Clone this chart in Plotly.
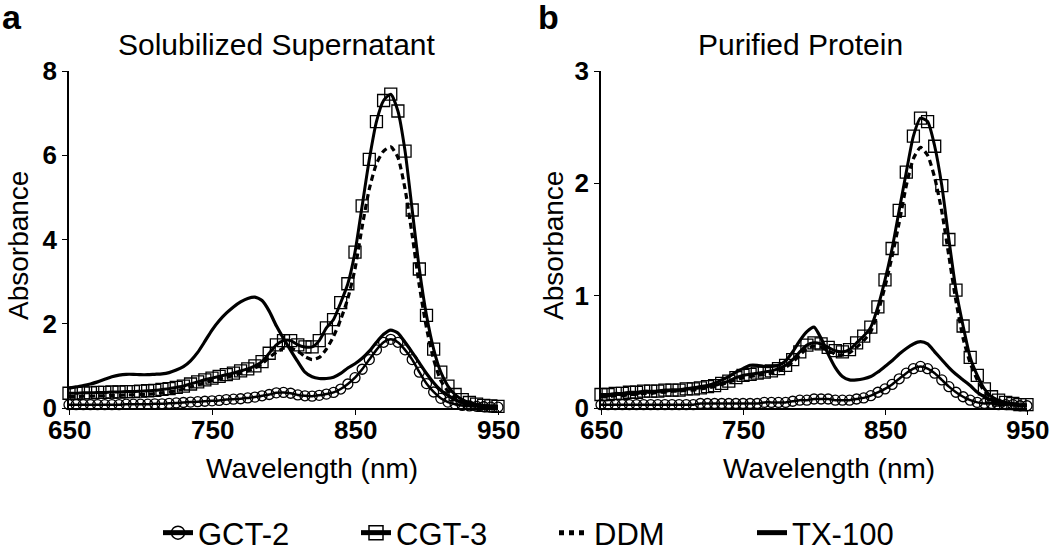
import plotly.graph_objects as go

# ---------------- data ----------------
wavelength = list(range(650, 951, 5))  # nm, 61 points

# Panel a: Solubilized Supernatant
a_gct2 = [0.08, 0.08, 0.08, 0.08, 0.08, 0.08, 0.08, 0.08, 0.09, 0.09,
          0.09, 0.09, 0.10, 0.10, 0.11, 0.12, 0.13, 0.14, 0.15, 0.16,
          0.17, 0.18, 0.20, 0.21, 0.22, 0.24, 0.26, 0.29, 0.32, 0.36,
          0.37, 0.35, 0.31, 0.29, 0.28, 0.30, 0.33, 0.37, 0.45, 0.57,
          0.72, 0.92, 1.15, 1.38, 1.56, 1.63, 1.56, 1.38, 1.15, 0.85,
          0.58, 0.38, 0.23, 0.14, 0.09, 0.06, 0.05, 0.04, 0.03, 0.02,
          0.02]
a_cgt3 = [0.35, 0.35, 0.36, 0.36, 0.37, 0.37, 0.38, 0.38, 0.39, 0.39,
          0.40, 0.41, 0.42, 0.44, 0.46, 0.49, 0.52, 0.57, 0.62, 0.67,
          0.71, 0.75, 0.79, 0.83, 0.88, 0.93, 1.00, 1.10, 1.30, 1.50,
          1.60, 1.60, 1.50, 1.45, 1.45, 1.60, 1.90, 2.10, 2.50, 2.95,
          3.70, 4.80, 5.90, 6.80, 7.30, 7.45, 7.05, 6.10, 4.70, 3.30,
          2.20, 1.40, 0.85, 0.52, 0.32, 0.20, 0.13, 0.09, 0.06, 0.05,
          0.04]
a_ddm = [0.27, 0.27, 0.28, 0.28, 0.29, 0.29, 0.30, 0.30, 0.31, 0.31,
         0.32, 0.33, 0.34, 0.36, 0.38, 0.41, 0.45, 0.50, 0.55, 0.60,
         0.65, 0.69, 0.73, 0.77, 0.82, 0.88, 0.95, 1.05, 1.20, 1.32,
         1.42, 1.42, 1.35, 1.22, 1.15, 1.20, 1.40, 1.70, 2.10, 2.60,
         3.30, 4.30, 5.20, 5.80, 6.10, 6.20, 5.95, 5.20, 4.10, 2.90,
         1.90, 1.15, 0.65, 0.40, 0.25, 0.16, 0.11, 0.07, 0.05, 0.04,
         0.03]
a_tx100 = [0.47, 0.50, 0.53, 0.57, 0.62, 0.68, 0.74, 0.78, 0.80, 0.80,
           0.79, 0.79, 0.80, 0.81, 0.84, 0.90, 0.98, 1.12, 1.32, 1.58,
           1.85, 2.07, 2.25, 2.40, 2.52, 2.60, 2.63, 2.55, 2.30, 1.95,
           1.65, 1.37, 1.10, 0.85, 0.74, 0.70, 0.70, 0.73, 0.82, 0.95,
           1.05, 1.18, 1.35, 1.56, 1.75, 1.85, 1.78, 1.56, 1.32, 1.07,
           0.82, 0.60, 0.42, 0.30, 0.20, 0.12, 0.08, 0.05, 0.03, 0.02,
           0.01]

# Panel b: Purified Protein
b_gct2 = [0.03, 0.03, 0.03, 0.03, 0.03, 0.03, 0.03, 0.03, 0.03, 0.03,
          0.03, 0.03, 0.03, 0.03, 0.04, 0.04, 0.04, 0.04, 0.04, 0.04,
          0.04, 0.04, 0.04, 0.05, 0.05, 0.05, 0.05, 0.06, 0.07, 0.07,
          0.08, 0.08, 0.08, 0.07, 0.07, 0.07, 0.08, 0.09, 0.11, 0.14,
          0.17, 0.21, 0.26, 0.31, 0.35, 0.37, 0.35, 0.31, 0.25, 0.19,
          0.14, 0.10, 0.07, 0.05, 0.04, 0.04, 0.03, 0.03, 0.03, 0.02,
          0.02]
b_cgt3 = [0.12, 0.12, 0.13, 0.13, 0.14, 0.14, 0.15, 0.15, 0.15, 0.16,
          0.16, 0.16, 0.17, 0.17, 0.18, 0.19, 0.20, 0.22, 0.24, 0.27,
          0.29, 0.30, 0.31, 0.32, 0.33, 0.35, 0.38, 0.43, 0.50, 0.56,
          0.58, 0.57, 0.54, 0.51, 0.50, 0.52, 0.58, 0.64, 0.72, 0.90,
          1.14, 1.42, 1.76, 2.10, 2.42, 2.58, 2.55, 2.33, 1.98, 1.50,
          1.05, 0.73, 0.45, 0.29, 0.17, 0.10, 0.07, 0.05, 0.04, 0.03,
          0.03]
b_ddm = [0.10, 0.10, 0.11, 0.11, 0.12, 0.12, 0.13, 0.13, 0.14, 0.14,
         0.15, 0.15, 0.16, 0.16, 0.17, 0.18, 0.19, 0.21, 0.23, 0.25,
         0.27, 0.28, 0.29, 0.30, 0.31, 0.33, 0.36, 0.41, 0.47, 0.53,
         0.55, 0.54, 0.51, 0.48, 0.47, 0.49, 0.54, 0.60, 0.68, 0.85,
         1.08, 1.35, 1.65, 1.98, 2.22, 2.32, 2.25, 2.05, 1.75, 1.35,
         0.95, 0.62, 0.40, 0.25, 0.15, 0.09, 0.06, 0.04, 0.03, 0.03,
         0.02]
b_tx100 = [0.10, 0.11, 0.12, 0.12, 0.13, 0.13, 0.14, 0.14, 0.15, 0.15,
           0.16, 0.16, 0.17, 0.18, 0.19, 0.20, 0.22, 0.25, 0.28, 0.32,
           0.35, 0.38, 0.38, 0.37, 0.37, 0.38, 0.42, 0.50, 0.60, 0.68,
           0.72, 0.62, 0.48, 0.36, 0.28, 0.25, 0.25, 0.26, 0.28, 0.32,
           0.37, 0.42, 0.48, 0.53, 0.57, 0.59, 0.57, 0.50, 0.43, 0.36,
           0.30, 0.25, 0.20, 0.14, 0.10, 0.07, 0.05, 0.04, 0.03, 0.02,
           0.02]

series_names = ["GCT-2", "CGT-3", "DDM", "TX-100"]
panel_titles = ["Solubilized Supernatant", "Purified Protein"]
panel_letters = ["a", "b"]
x_ticks = [650, 750, 850, 950]
a_y_ticks = [0, 2, 4, 6, 8]
b_y_ticks = [0, 1, 2, 3]

# ---------------- figure ----------------
W, H = 1050, 547
FONT = "Liberation Sans, Arial, sans-serif"


def px(x):
    return x / W


def py(y):
    return 1 - y / H


fig = go.Figure()

styles = {
    "GCT-2": dict(mode="lines+markers", line=dict(color="black", width=2.5),
                  marker=dict(symbol="circle-open", size=10, color="black",
                              line=dict(width=1.3, color="black"))),
    "CGT-3": dict(mode="lines+markers", line=dict(color="black", width=3),
                  marker=dict(symbol="square-open", size=12, color="black",
                              line=dict(width=1.3, color="black"))),
    "DDM": dict(mode="lines", line=dict(color="black", width=3.2, dash="6px,4px")),
    "TX-100": dict(mode="lines", line=dict(color="black", width=3.2)),
}

panels = [
    ("x", "y", {"GCT-2": a_gct2, "CGT-3": a_cgt3, "DDM": a_ddm, "TX-100": a_tx100}),
    ("x2", "y2", {"GCT-2": b_gct2, "CGT-3": b_cgt3, "DDM": b_ddm, "TX-100": b_tx100}),
]

for xa, ya, data in panels:
    for name in ["TX-100", "DDM", "CGT-3", "GCT-2"]:
        st = styles[name]
        fig.add_trace(go.Scatter(
            x=wavelength, y=data[name], xaxis=xa, yaxis=ya, name=name,
            mode=st["mode"], line=dict(st["line"], shape="spline", smoothing=0.6),
            marker=st.get("marker"), showlegend=False, cliponaxis=False,
            hoverinfo="skip"))

# legend-only entries (thicker symbols, as in the reference legend)
leg_styles = {
    "GCT-2": dict(mode="lines+markers", line=dict(color="black", width=5),
                  marker=dict(symbol="circle-open", size=13, color="black",
                              line=dict(width=1.5, color="black"))),
    "CGT-3": dict(mode="lines+markers", line=dict(color="black", width=5),
                  marker=dict(symbol="square-open", size=14, color="black",
                              line=dict(width=1.5, color="black"))),
    "DDM": dict(mode="lines", line=dict(color="black", width=5, dash="dot")),
    "TX-100": dict(mode="lines", line=dict(color="black", width=5)),
}
for name in series_names:
    st = leg_styles[name]
    fig.add_trace(go.Scatter(x=[None], y=[None], name=name, mode=st["mode"],
                             line=st["line"], marker=st.get("marker"),
                             showlegend=True, xaxis="x", yaxis="y"))

ydom = [py(408), py(71)]
TICKFONT = dict(family=FONT, size=26, color="black", weight="bold")
axis_common = dict(showgrid=False, zeroline=False, showline=True, linecolor="black",
                   linewidth=1.5, ticks="outside", ticklen=5, tickwidth=1.2,
                   tickcolor="black", automargin=False, tickfont=TICKFONT)

fig.update_layout(
    width=W, height=H, margin=dict(l=0, r=0, t=0, b=0, autoexpand=False),
    paper_bgcolor="white", plot_bgcolor="white",
    font=dict(family=FONT, color="black"),
    xaxis=dict(axis_common, domain=[px(69), px(498)], range=[650, 950],
               tickvals=x_ticks, showticklabels=False, anchor="y"),
    yaxis=dict(axis_common, domain=ydom, range=[0, 8], tickvals=a_y_ticks, anchor="x"),
    xaxis2=dict(axis_common, domain=[px(601), px(1027)], range=[650, 950],
                tickvals=x_ticks, showticklabels=False, anchor="y2"),
    yaxis2=dict(axis_common, domain=ydom, range=[0, 3], tickvals=b_y_ticks, anchor="x2"),
    legend=dict(orientation="h", x=px(158), y=py(506), xanchor="left", yanchor="top",
                font=dict(family=FONT, size=31, color="black"),
                entrywidth=153, entrywidthmode="pixels", bgcolor="rgba(0,0,0,0)"),
    showlegend=True,
)

ann = []
# x tick labels (placed on the data axis, a little closer than Plotly's default)
for xref in ("x", "x2"):
    for t in x_ticks:
        ann.append(dict(text=f"<b>{t}</b>", x=t, xref=xref, y=py(430), yref="paper",
                        xanchor="center", yanchor="middle", font=dict(TICKFONT)))
# panel letters
ann.append(dict(text="<b>a</b>", x=px(0), y=py(17), xanchor="left", yanchor="middle",
                font=dict(size=34)))
ann.append(dict(text="<b>b</b>", x=px(536), y=py(17), xanchor="left", yanchor="middle",
                font=dict(size=34)))
# panel titles
ann.append(dict(text=panel_titles[0], x=px(277), y=py(45), xanchor="center",
                yanchor="middle", font=dict(size=30)))
ann.append(dict(text=panel_titles[1], x=px(800), y=py(44), xanchor="center",
                yanchor="middle", font=dict(size=30)))
# axis titles
for xc in (19, 554):
    ann.append(dict(text="Absorbance", x=px(xc), y=py(246), xanchor="center",
                    yanchor="middle", textangle=-90, font=dict(size=28)))
for xc in (312, 829):
    ann.append(dict(text="Wavelength (nm)", x=px(xc), y=py(468), xanchor="center",
                    yanchor="middle", font=dict(size=28)))
for a in ann:
    a.setdefault("xref", "paper")
    a.setdefault("yref", "paper")
    a["showarrow"] = False
    a["font"].update(family=FONT, color="black")
fig.update_layout(annotations=ann)

# remove the browser's default page margin so the 1050x547 figure fills the window
fig.write_html(
    "out.html",
    config={"displayModeBar": False},
    post_script="document.body.style.margin='0';document.body.style.overflow='hidden';",
)
